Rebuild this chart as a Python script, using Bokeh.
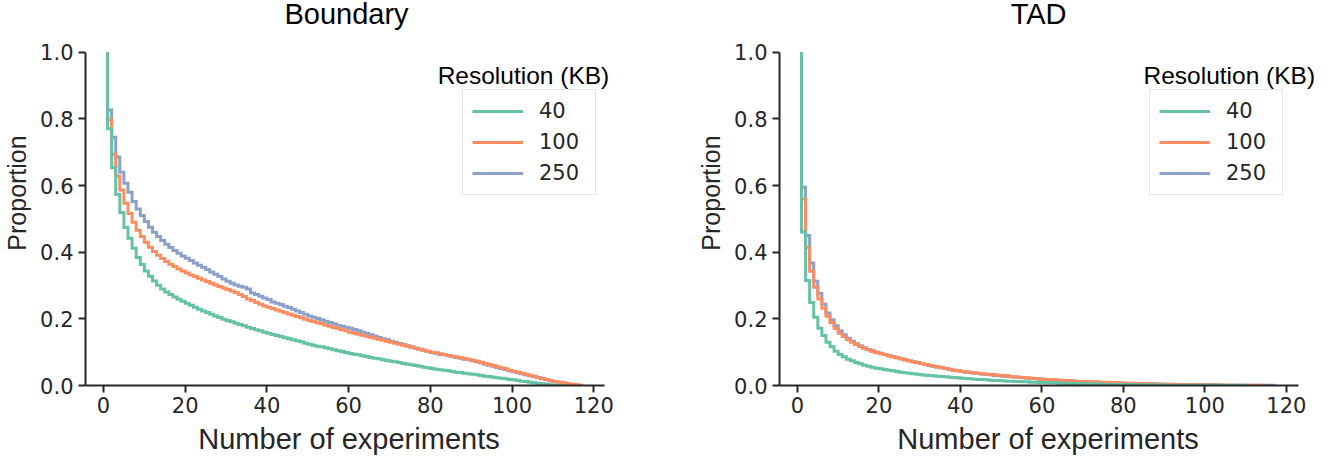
from bokeh.plotting import figure
from bokeh.layouts import row
from bokeh.models import Range1d, FixedTicker, NumeralTickFormatter, Legend, LegendItem, Label
from bokeh.embed import file_html
from bokeh.resources import INLINE

# ---------------- data ----------------
resolutions = ["40", "100", "250"]
colors = ["#66c2a5", "#fc8d62", "#8da0cb"]
x_ticks = [0, 20, 40, 60, 80, 100, 120]
y_ticks = [0.0, 0.2, 0.4, 0.6, 0.8, 1.0]

# proportion of elements found in at least n experiments (n = 1, 2, 3, ...)
boundary_40 = [
    0.771, 0.654, 0.573, 0.519, 0.474, 0.442, 0.412, 0.384, 0.363, 0.344,
    0.328, 0.314, 0.301, 0.290, 0.281, 0.273, 0.266, 0.259, 0.253, 0.247,
    0.241, 0.235, 0.229, 0.224, 0.219, 0.214, 0.209, 0.204, 0.199, 0.195,
    0.191, 0.187, 0.183, 0.179, 0.175, 0.171, 0.167, 0.164, 0.160, 0.157,
    0.153, 0.150, 0.147, 0.143, 0.140, 0.137, 0.134, 0.131, 0.127, 0.124,
    0.121, 0.118, 0.116, 0.113, 0.110, 0.107, 0.104, 0.102, 0.099, 0.096,
    0.094, 0.092, 0.089, 0.087, 0.084, 0.082, 0.080, 0.077, 0.075, 0.073,
    0.071, 0.069, 0.066, 0.064, 0.062, 0.060, 0.058, 0.055, 0.053, 0.051,
    0.049, 0.047, 0.046, 0.044, 0.042, 0.040, 0.039, 0.037, 0.035, 0.034,
    0.032, 0.030, 0.028, 0.027, 0.025, 0.023, 0.022, 0.020, 0.018, 0.017,
    0.015, 0.013, 0.012, 0.010, 0.008, 0.007, 0.005, 0.004, 0.002, 0.001,
    0.0005, 0.0]
boundary_100 = [
    0.797, 0.694, 0.629, 0.587, 0.547, 0.516, 0.490, 0.466, 0.447, 0.430,
    0.415, 0.402, 0.391, 0.381, 0.372, 0.364, 0.357, 0.350, 0.344, 0.338,
    0.332, 0.327, 0.322, 0.317, 0.312, 0.307, 0.302, 0.297, 0.293, 0.288,
    0.284, 0.279, 0.273, 0.267, 0.260, 0.255, 0.249, 0.244, 0.239, 0.235,
    0.231, 0.227, 0.223, 0.219, 0.215, 0.211, 0.207, 0.203, 0.199, 0.195,
    0.192, 0.188, 0.185, 0.181, 0.178, 0.174, 0.171, 0.167, 0.164, 0.160,
    0.157, 0.154, 0.151, 0.148, 0.145, 0.142, 0.139, 0.136, 0.133, 0.130,
    0.127, 0.124, 0.121, 0.118, 0.115, 0.112, 0.109, 0.106, 0.103, 0.100,
    0.098, 0.095, 0.093, 0.090, 0.088, 0.086, 0.083, 0.081, 0.078, 0.076,
    0.073, 0.070, 0.066, 0.063, 0.060, 0.056, 0.053, 0.050, 0.046, 0.043,
    0.040, 0.037, 0.034, 0.031, 0.028, 0.024, 0.021, 0.018, 0.015, 0.012,
    0.010, 0.008, 0.006, 0.004, 0.003, 0.001, 0.0]
boundary_250 = [
    0.827, 0.745, 0.686, 0.640, 0.607, 0.580, 0.552, 0.530, 0.510, 0.492,
    0.475, 0.460, 0.447, 0.435, 0.424, 0.414, 0.405, 0.397, 0.389, 0.382,
    0.375, 0.368, 0.361, 0.355, 0.348, 0.341, 0.334, 0.327, 0.320, 0.313,
    0.307, 0.302, 0.298, 0.295, 0.290, 0.278, 0.273, 0.268, 0.263, 0.258,
    0.251, 0.247, 0.243, 0.238, 0.234, 0.229, 0.224, 0.219, 0.214, 0.209,
    0.205, 0.201, 0.197, 0.193, 0.189, 0.185, 0.181, 0.178, 0.175, 0.172,
    0.168, 0.164, 0.160, 0.156, 0.152, 0.148, 0.144, 0.140, 0.137, 0.133,
    0.130, 0.126, 0.123, 0.119, 0.116, 0.112, 0.109, 0.106, 0.102, 0.099,
    0.097, 0.094, 0.092, 0.089, 0.087, 0.084, 0.082, 0.079, 0.077, 0.074,
    0.071, 0.068, 0.064, 0.061, 0.058, 0.054, 0.051, 0.048, 0.044, 0.041,
    0.038, 0.035, 0.032, 0.029, 0.026, 0.023, 0.020, 0.017, 0.014, 0.012,
    0.010, 0.008, 0.006, 0.004, 0.003, 0.001, 0.0]

tad_40 = [
    0.461, 0.315, 0.249, 0.205, 0.172, 0.150, 0.130, 0.116, 0.103, 0.093,
    0.086, 0.079, 0.074, 0.069, 0.065, 0.061, 0.058, 0.055, 0.052, 0.050,
    0.048, 0.046, 0.044, 0.042, 0.040, 0.038, 0.037, 0.035, 0.034, 0.032,
    0.031, 0.030, 0.029, 0.028, 0.027, 0.026, 0.025, 0.024, 0.023, 0.022,
    0.021, 0.020, 0.019, 0.018, 0.018, 0.017, 0.016, 0.015, 0.015, 0.014,
    0.013, 0.013, 0.012, 0.012, 0.011, 0.011, 0.010, 0.010, 0.009, 0.009,
    0.008, 0.008, 0.008, 0.007, 0.007, 0.007, 0.006, 0.006, 0.006, 0.005,
    0.005, 0.005, 0.005, 0.004, 0.004, 0.004, 0.004, 0.003, 0.003, 0.003,
    0.003, 0.003, 0.002, 0.002, 0.002, 0.002, 0.002, 0.002, 0.002, 0.001,
    0.001, 0.001, 0.001, 0.001, 0.001, 0.001, 0.001, 0.001, 0.001, 0.001,
    0.001, 0.001, 0.001, 0.001, 0.001, 0.001, 0.001, 0.001, 0.001, 0.0]
tad_100 = [
    0.560, 0.415, 0.343, 0.295, 0.260, 0.232, 0.208, 0.188, 0.171, 0.157,
    0.147, 0.138, 0.130, 0.123, 0.117, 0.112, 0.107, 0.103, 0.099, 0.096,
    0.093, 0.089, 0.086, 0.083, 0.080, 0.077, 0.074, 0.071, 0.069, 0.066,
    0.063, 0.061, 0.058, 0.056, 0.053, 0.051, 0.049, 0.046, 0.044, 0.042,
    0.041, 0.040, 0.038, 0.037, 0.036, 0.034, 0.033, 0.032, 0.031, 0.030,
    0.029, 0.027, 0.026, 0.025, 0.024, 0.023, 0.022, 0.021, 0.020, 0.019,
    0.018, 0.017, 0.017, 0.016, 0.015, 0.015, 0.014, 0.013, 0.013, 0.012,
    0.012, 0.011, 0.011, 0.010, 0.010, 0.009, 0.009, 0.008, 0.008, 0.007,
    0.007, 0.007, 0.006, 0.006, 0.006, 0.005, 0.005, 0.005, 0.004, 0.004,
    0.004, 0.004, 0.003, 0.003, 0.003, 0.003, 0.003, 0.002, 0.002, 0.002,
    0.002, 0.002, 0.002, 0.001, 0.001, 0.001, 0.001, 0.001, 0.001, 0.001,
    0.001, 0.001, 0.001, 0.0]
tad_250 = [
    0.595, 0.450, 0.368, 0.313, 0.276, 0.245, 0.218, 0.197, 0.179, 0.164,
    0.152, 0.142, 0.133, 0.125, 0.119, 0.113, 0.108, 0.104, 0.100, 0.097,
    0.093, 0.089, 0.086, 0.083, 0.080, 0.077, 0.074, 0.071, 0.068, 0.066,
    0.063, 0.060, 0.058, 0.055, 0.053, 0.051, 0.048, 0.046, 0.044, 0.042,
    0.040, 0.039, 0.037, 0.036, 0.034, 0.033, 0.032, 0.030, 0.029, 0.028,
    0.027, 0.026, 0.025, 0.024, 0.023, 0.022, 0.021, 0.020, 0.019, 0.018,
    0.017, 0.016, 0.016, 0.015, 0.014, 0.014, 0.013, 0.012, 0.012, 0.011,
    0.011, 0.010, 0.010, 0.009, 0.009, 0.008, 0.008, 0.008, 0.007, 0.007,
    0.006, 0.006, 0.006, 0.005, 0.005, 0.005, 0.005, 0.004, 0.004, 0.004,
    0.004, 0.003, 0.003, 0.003, 0.003, 0.003, 0.002, 0.002, 0.002, 0.002,
    0.002, 0.002, 0.001, 0.001, 0.001, 0.001, 0.001, 0.001, 0.001, 0.001,
    0.001, 0.001, 0.001, 0.001, 0.001, 0.001, 0.0]

TEXT = "#262626"
Y_TOP = 1.1557   # frame extends above 1.0 to hold the panel title


def make_panel(title, series, border_left, border_right,
               x_end, axis_end, legend_x, legend_title_x, title_x):
    p = figure(title=None, width=660, height=457,
               x_range=Range1d(-4.4, x_end), y_range=Range1d(0, Y_TOP),
               output_backend="svg", toolbar_location=None,
               min_border_left=border_left, min_border_right=border_right,
               min_border_top=0, min_border_bottom=71)

    p.xgrid.visible = False
    p.ygrid.visible = False
    p.outline_line_color = None
    p.background_fill_color = "white"

    for ax in (p.xaxis[0], p.yaxis[0]):
        ax.axis_line_width = 2
        ax.axis_line_color = TEXT
        ax.major_tick_line_width = 2
        ax.major_tick_line_color = TEXT
        ax.major_tick_out = 7
        ax.major_tick_in = 0
        ax.minor_tick_out = 0
        ax.minor_tick_in = 0
        ax.major_label_text_font = "DejaVu Sans"
        ax.major_label_text_font_size = "21px"
        ax.major_label_text_color = TEXT
        ax.axis_label_text_font = "Liberation Sans"
        ax.axis_label_text_font_style = "normal"
        ax.axis_label_text_color = TEXT

    p.xaxis.bounds = (-4.4, axis_end)
    p.yaxis.bounds = (0, 1)
    p.xaxis.ticker = FixedTicker(ticks=x_ticks)
    p.yaxis.ticker = FixedTicker(ticks=y_ticks)
    p.yaxis.formatter = NumeralTickFormatter(format="0.0")
    p.xaxis.axis_label = "Number of experiments"
    p.xaxis.axis_label_text_font_size = "29px"
    p.xaxis.axis_label_standoff = 7
    p.xaxis.major_label_standoff = 4
    p.yaxis.axis_label = "Proportion"
    p.yaxis.axis_label_text_font_size = "25px"
    p.yaxis.axis_label_standoff = 6
    p.yaxis.major_label_standoff = 5

    renderers = {}
    # draw 250 first, 40 on top
    for res, col, vals in reversed(list(zip(resolutions, colors, series))):
        xs = [1] + list(range(1, len(vals) + 1))
        ys = [1.0] + list(vals)
        r = p.step(xs, ys, mode="after", line_color=col, line_width=3,
                   line_join="miter")
        renderers[res] = r

    items = [LegendItem(label=res, renderers=[renderers[res]]) for res in resolutions]
    legend = Legend(items=items, location=(legend_x, 190),
                    padding=9, spacing=7, margin=0,
                    glyph_height=22, glyph_width=51,
                    label_height=22, label_width=47, label_standoff=16,
                    label_text_font="DejaVu Sans", label_text_font_size="21px",
                    label_text_color=TEXT,
                    border_line_color="#cccccc", border_line_width=1,
                    background_fill_color="white", background_fill_alpha=0.8)
    p.add_layout(legend)

    p.add_layout(Label(x=legend_title_x, y=0.9311, text="Resolution (KB)",
                       text_font="Liberation Sans", text_font_size="24.5px",
                       text_color="black", text_align="center",
                       text_baseline="middle"))
    p.add_layout(Label(x=title_x, y=1.1138, text=title,
                       text_font="Liberation Sans", text_font_size="29px",
                       text_color="black", text_align="center",
                       text_baseline="middle"))
    return p


p1 = make_panel("Boundary", [boundary_40, boundary_100, boundary_250],
                84, 48, 124.6, 122.7, 377, 102.8, 59.5)
p2 = make_panel("TAD", [tad_40, tad_100, tad_250],
                119, 4, 127.4, 122.9, 370, 106.0, 59.2)

layout = row(p1, p2)
open("out.html", "w").write(file_html(layout, INLINE))
